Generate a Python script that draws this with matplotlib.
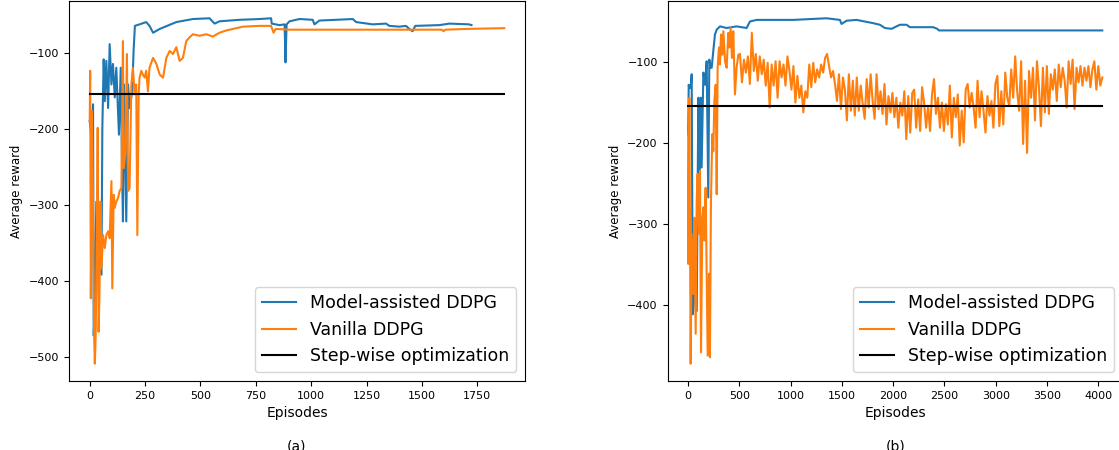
import numpy as np
import matplotlib
matplotlib.use('Agg')
import matplotlib.pyplot as plt

### data

# (a) Model-assisted DDPG
a_blue_ep = [0, 7, 15, 18, 23, 30, 42, 53, 57, 63, 68, 75, 83, 90, 98, 105, 113, 120, 132, 140,
             146, 150, 155, 165, 173, 180, 192, 198, 204, 225, 255, 270, 286, 316, 391, 466, 541, 564, 586, 677,
             767, 819, 822, 857, 880, 884, 889, 902, 947, 1007, 1015, 1037, 1188, 1203, 1278, 1338, 1353, 1398, 1428, 1443,
             1458, 1470, 1579, 1624, 1713, 1724]
a_blue_val = [-190, -208, -168, -472, -428, -296, -362, -392, -199, -109, -164, -111, -173, -89, -142, -115, -159, -120, -208, -120,
              -252, -322, -142, -322, -142, -173, -151, -98, -65, -63, -60, -65, -74, -69, -60, -56, -55, -62, -59, -57,
              -56, -55, -62, -64, -63, -113, -63, -59, -56, -57, -63, -58, -56, -60, -63, -62, -65, -66, -65, -69,
              -72, -65, -64, -62, -63, -64]

# (a) Vanilla DDPG
a_orange_ep = [0, 2, 5, 10, 15, 20, 23, 27, 32, 36, 40, 44, 48, 53, 60, 68, 75, 83, 90, 98,
               102, 108, 113, 120, 128, 135, 143, 150, 153, 161, 168, 173, 180, 188, 195, 203, 210, 215, 221, 225,
               233, 240, 248, 255, 263, 270, 286, 301, 316, 331, 346, 361, 376, 391, 406, 421, 436, 451, 466, 496,
               526, 556, 586, 617, 692, 767, 819, 824, 830, 840, 902, 1200, 1500, 1590, 1598, 1606, 1700, 1872]
a_orange_val = [-190, -124, -423, -177, -296, -472, -509, -472, -340, -199, -467, -419, -296, -384, -340, -357, -340, -335, -344, -269,
                -410, -287, -304, -296, -291, -282, -278, -85, -252, -234, -102, -282, -278, -142, -120, -155, -142, -340, -155, -133,
                -124, -129, -133, -124, -151, -120, -107, -115, -129, -133, -107, -98, -102, -93, -111, -107, -85, -80, -76, -78,
                -76, -79, -74, -71, -66, -65, -65, -69, -74, -69, -70, -70, -70, -70, -72, -70, -69, -68]

# (b) Model-assisted DDPG
b_blue_ep = [0, 5, 11, 24, 34, 44, 57, 67, 83, 99, 109, 122, 131, 148, 164, 180, 196, 206, 219, 229,
             245, 261, 278, 310, 375, 472, 570, 602, 667, 1024, 1350, 1480, 1496, 1545, 1642, 1804, 1870, 1919, 1984, 2065,
             2130, 2163, 2390, 2430, 2447, 4040]
b_blue_val = [-190, -128, -132, -132, -115, -411, -394, -312, -407, -144, -271, -144, -230, -113, -128, -99, -267, -97, -107, -107,
              -86, -66, -60, -56, -58, -56, -58, -50, -48, -48, -46, -48, -53, -49, -48, -52, -54, -58, -59, -54,
              -54, -57, -57, -59, -61, -61]

# (b) Vanilla DDPG, first 500 episodes
b_orange_ep = [0, 1, 11, 24, 34, 50, 60, 73, 83, 92, 105, 115, 125, 138, 148, 157, 170, 180, 190, 203,
               212, 222, 235, 245, 255, 268, 278, 287, 300, 310, 320, 333, 343, 359, 375, 391, 401, 414, 427, 440,
               456, 472, 489]
b_orange_val = [-187, -349, -144, -472, -312, -386, -292, -435, -271, -238, -312, -234, -458, -292, -279, -320, -255, -361, -462, -361,
                -464, -271, -189, -210, -148, -128, -263, -107, -82, -103, -66, -91, -62, -99, -107, -64, -82, -58, -95, -62,
                -140, -107, -91]
# (b) Vanilla DDPG, read about every 19 episodes from 505 to 4040
b_orange_late = [-90, -125, -97, -113, -93, -127, -64, -111, -90, -123,
                 -93, -115, -97, -129, -101, -156, -103, -129, -99, -144,
                 -99, -119, -103, -129, -93, -111, -134, -105, -150, -117,
                 -144, -129, -162, -136, -144, -103, -131, -101, -125, -109,
                 -119, -103, -113, -95, -90, -105, -119, -111, -127, -148,
                 -115, -158, -119, -134, -172, -115, -160, -123, -166, -119,
                 -160, -129, -152, -170, -121, -156, -115, -148, -170, -115,
                 -158, -136, -164, -127, -177, -142, -162, -138, -168, -144,
                 -181, -150, -166, -136, -195, -142, -187, -138, -134, -181,
                 -146, -185, -131,
                 -150, -181, -154, -185, -140, -121, -164, -144, -181, -150,
                 -185, -152, -177, -129, -193, -144, -168, -140, -203, -160,
                 -199, -134, -127, -156, -138, -156, -181, -123, -168, -136,
                 -160, -187, -142, -166, -148, -181, -127, -117, -179, -136,
                 -177, -113, -144, -154, -109, -144, -93, -136, -160, -99,
                 -201, -123, -212, -111, -144, -107, -172, -99, -131, -179,
                 -107, -162, -105, -164, -115, -134, -109, -148, -103, -131,
                 -107, -123, -156, -99, -127, -97, -158, -107, -125, -105,
                 -129, -107, -123, -105, -131, -109, -99, -134, -105, -129,
                 -119]

# step-wise optimization baseline
step_val = -154
a_last_ep = 1872
b_last_ep = 4040

labels = ['Model-assisted DDPG', 'Vanilla DDPG', 'Step-wise optimization']

### plot

fig = plt.figure(figsize=(11.19, 4.5), dpi=100)
ax1 = fig.add_axes([69 / 1119, 1 - 381 / 450, (525 - 69) / 1119, 380 / 450])
ax2 = fig.add_axes([667.5 / 1119, 1 - 381 / 450, (1123 - 667.5) / 1119, 380 / 450])

lw = 1.5
ax1.plot(a_blue_ep, a_blue_val, color='#1f77b4', lw=lw, label=labels[0])
ax1.plot(a_orange_ep, a_orange_val, color='#ff7f0e', lw=lw, label=labels[1])
ax1.plot([0, a_last_ep], [step_val, step_val], color='k', lw=lw, label=labels[2])

b_orange_x = list(b_orange_ep) + list(np.linspace(505, b_last_ep, len(b_orange_late)))
b_orange_y = list(b_orange_val) + list(b_orange_late)
ax2.plot(b_blue_ep, b_blue_val, color='#1f77b4', lw=lw, label=labels[0])
ax2.plot(b_orange_x, b_orange_y, color='#ff7f0e', lw=lw, label=labels[1])
ax2.plot([0, b_last_ep], [step_val, step_val], color='k', lw=lw, label=labels[2])

for ax, cap in [(ax1, '(a)'), (ax2, '(b)')]:
    ax.set_xlabel('Episodes', fontsize=10)
    ax.set_ylabel('Average reward', fontsize=8.5)
    ax.tick_params(labelsize=8)
    leg = ax.legend(loc='lower right', fontsize=12.5)
    for h in leg.get_lines():
        h.set_linewidth(1.5)
    pos = ax.get_position()
    # caption sits at the bottom edge, partly cut as in the source image
    fig.text((pos.x0 + pos.x1) / 2, 1 - 440 / 450, cap, ha='center', va='top', fontsize=10)

ax1.set_xticks([0, 250, 500, 750, 1000, 1250, 1500, 1750])
ax2.set_xticks([0, 500, 1000, 1500, 2000, 2500, 3000, 3500, 4000])

fig.savefig('out.png', dpi=100)
